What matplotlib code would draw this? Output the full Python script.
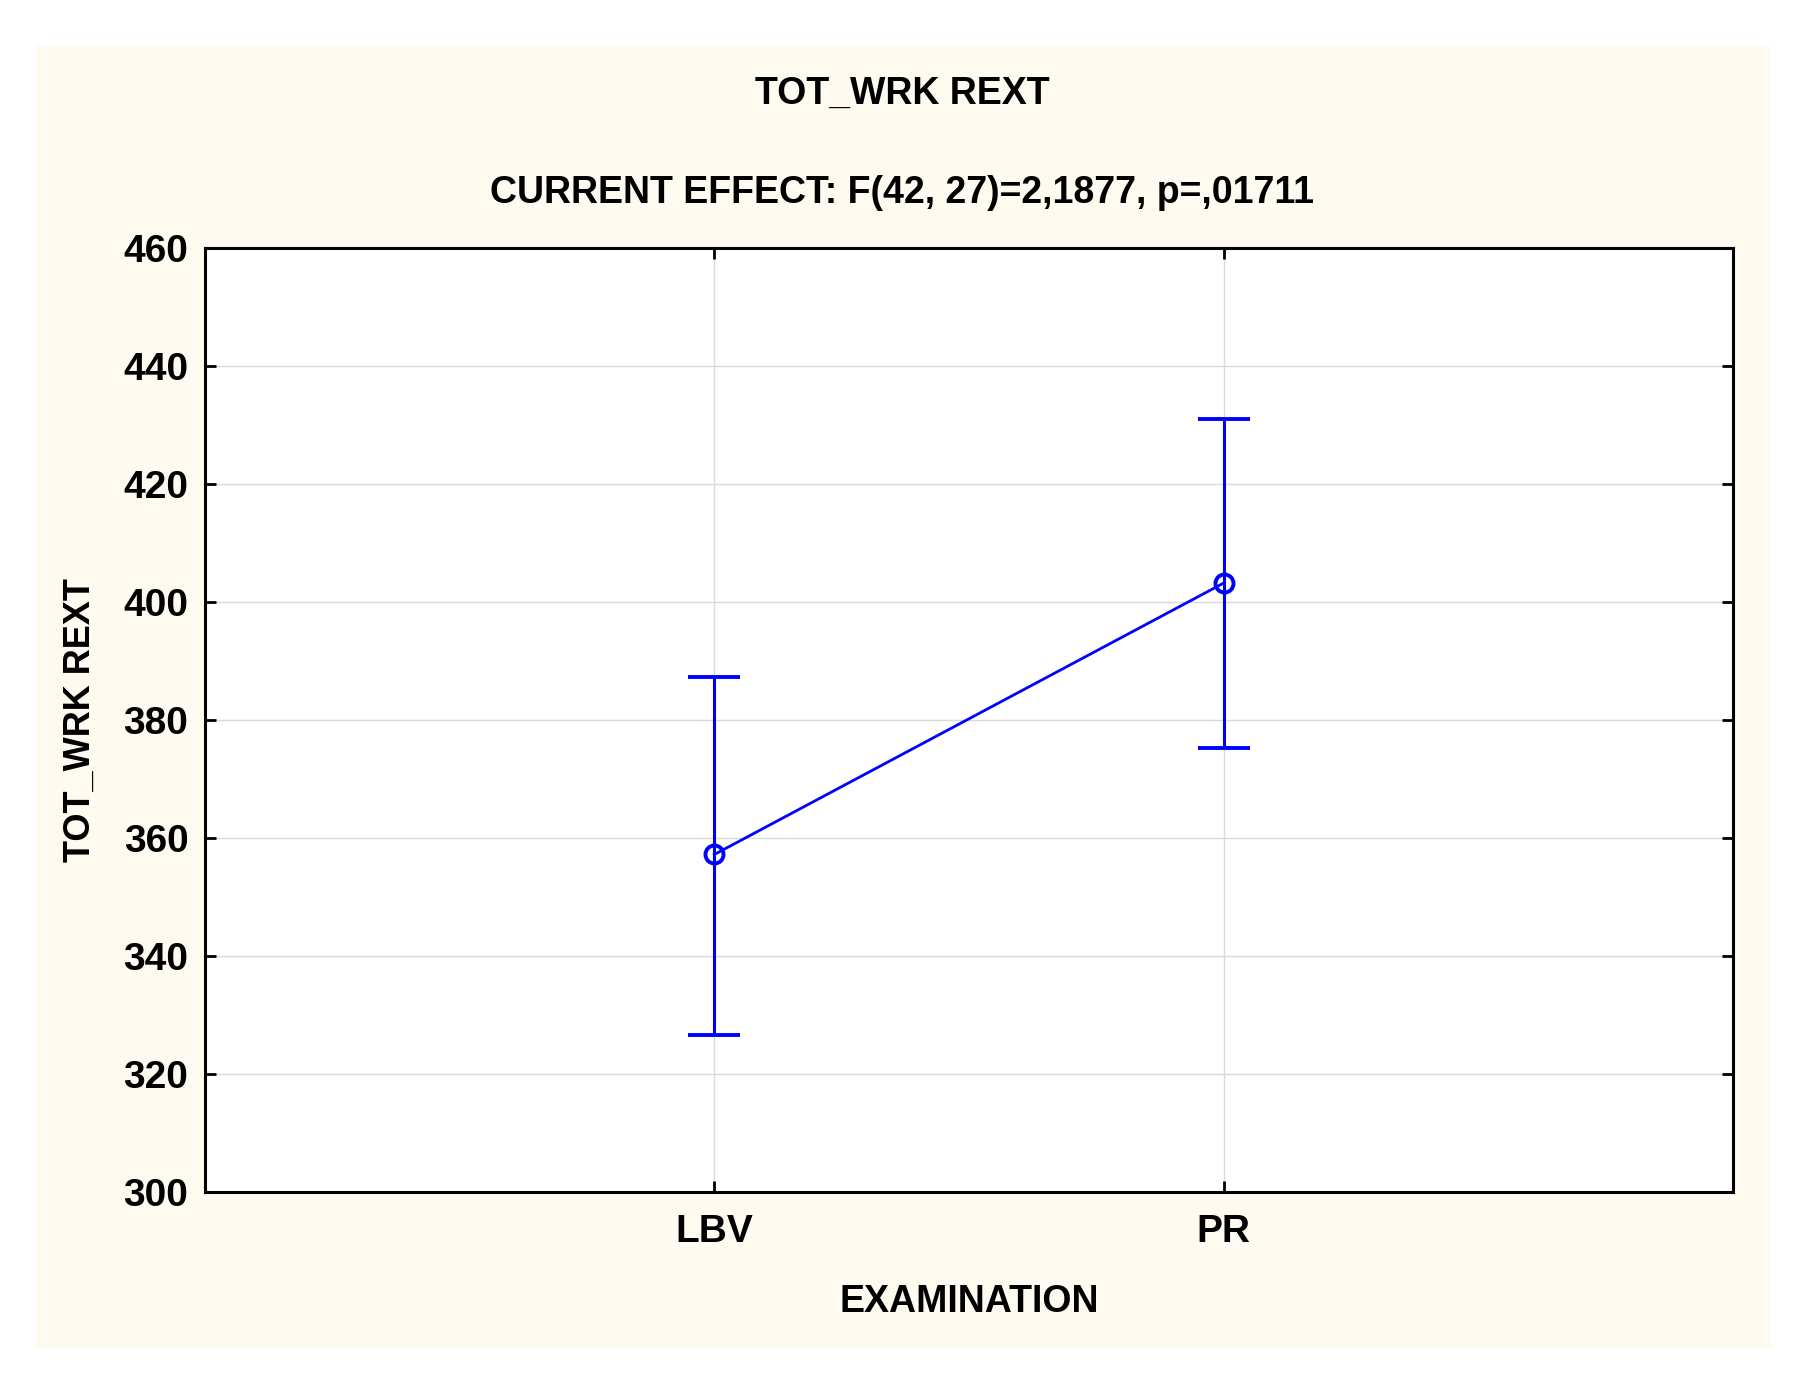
import numpy as np
import matplotlib
matplotlib.use("Agg")
import matplotlib.pyplot as plt
from matplotlib.patches import Rectangle

plt.rcParams["font.family"] = ["Liberation Sans", "DejaVu Sans"]
plt.rcParams["font.weight"] = "bold"

# data
groups = ["LBV", "PR"]
means = [357.2, 403.2]
upper = [387.2, 431.0]
lower = [326.6, 375.2]
y_ticks = [300, 320, 340, 360, 380, 400, 420, 440, 460]

blue = "#0000ff"

fig = plt.figure(figsize=(18.05, 13.75), dpi=100)
fig.patch.set_facecolor("white")

# cream background panel
fig.patches.append(Rectangle((0.0199, 0.0196), 0.9612, 0.9469,
                             transform=fig.transFigure, facecolor="#fffaf0",
                             edgecolor="none", zorder=-10))

ax = fig.add_axes([0.1136, 0.1331, 0.8465, 0.6866])
ax.set_facecolor("white")

x = np.arange(len(groups))
m = np.array(means)
err = [m - np.array(lower), np.array(upper) - m]

ax.errorbar(x, m, yerr=err, color=blue, lw=2.0, elinewidth=2.2,
            capsize=18.7, capthick=2.2, marker="o", markersize=13,
            markerfacecolor="none", markeredgecolor=blue, markeredgewidth=2.8,
            zorder=3)

ax.set_xlim(-1, 2)
ax.set_ylim(300, 460)
ax.set_xticks(x)
ax.set_xticklabels(groups)
ax.set_yticks(y_ticks)

ax.grid(True, color="#d9d9d9", lw=1.0, zorder=0)
ax.set_axisbelow(True)

for s in ax.spines.values():
    s.set_linewidth(2.2)
    s.set_color("black")

ax.tick_params(axis="both", direction="in", length=8, width=2,
               top=True, right=True, labelsize=28, pad=12)
ax.tick_params(axis="x", pad=16)
for lab in ax.get_xticklabels() + ax.get_yticklabels():
    lab.set_fontweight("bold")

ax.set_xlabel("EXAMINATION", fontsize=27, fontweight="bold", labelpad=24)
ax.set_ylabel("TOT_WRK REXT", fontsize=26, fontweight="bold", labelpad=18)

fig.text(0.5, 1 - 94 / 1375, "TOT_WRK REXT", ha="center", va="center",
         fontsize=27, fontweight="bold")
fig.text(0.5, 1 - 193 / 1375, "CURRENT EFFECT: F(42, 27)=2,1877, p=,01711",
         ha="center", va="center", fontsize=27, fontweight="bold")

fig.savefig("out.png", dpi=100)
plt.close(fig)
